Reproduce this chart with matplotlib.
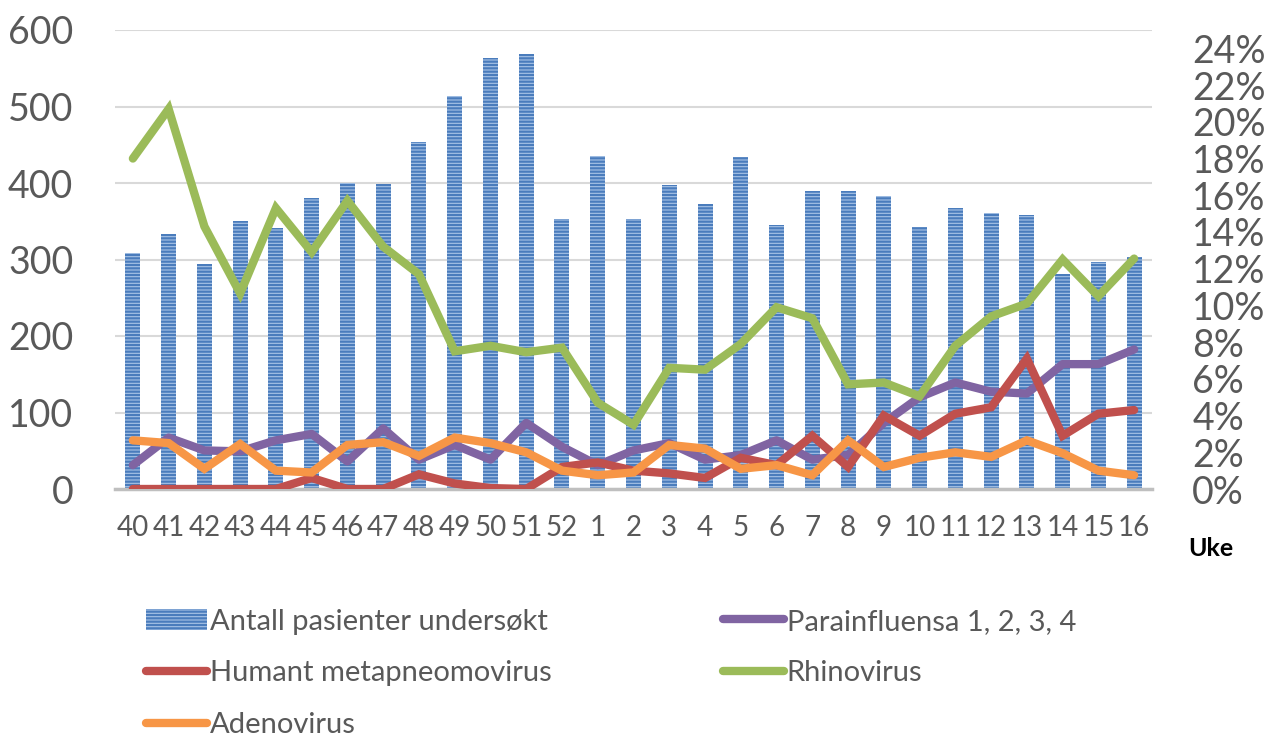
import numpy as np
import matplotlib
matplotlib.use("Agg")
import matplotlib.pyplot as plt
from matplotlib.ticker import FuncFormatter, MultipleLocator
from matplotlib.patches import Patch
from matplotlib.lines import Line2D

# data
uker = ["40", "41", "42", "43", "44", "45", "46", "47", "48", "49", "50", "51", "52",
        "1", "2", "3", "4", "5", "6", "7", "8", "9", "10", "11", "12", "13", "14", "15", "16"]
antall = [308, 333, 294, 350, 341, 380, 400, 399, 453, 514, 563, 569, 353,
          435, 353, 397, 373, 434, 345, 390, 390, 383, 342, 367, 361, 358, 281, 297, 303]
parainfluensa = [1.3, 2.8, 2.1, 2.05, 2.65, 3.0, 1.5, 3.3, 1.6, 2.4, 1.6, 3.6, 2.3,
                 1.3, 2.1, 2.5, 1.6, 1.85, 2.65, 1.6, 1.85, 3.6, 5.0, 5.8, 5.3, 5.2, 6.8, 6.8, 7.6]
metapneumo = [0.0, 0.0, 0.0, 0.0, 0.0, 0.6, 0.0, 0.0, 0.8, 0.3, 0.05, 0.0, 1.2,
              1.45, 1.0, 0.85, 0.6, 1.7, 1.3, 2.9, 1.2, 4.0, 2.9, 4.1, 4.45, 7.1, 2.9, 4.1, 4.3]
rhinovirus = [18.0, 20.7, 14.3, 10.65, 15.3, 12.9, 15.7, 13.2, 11.7, 7.5, 7.8, 7.45, 7.7,
              4.7, 3.5, 6.6, 6.5, 7.9, 9.9, 9.3, 5.7, 5.8, 5.05, 7.8, 9.4, 10.1, 12.5, 10.5, 12.55]
adenovirus = [2.65, 2.5, 1.1, 2.45, 1.0, 0.9, 2.4, 2.55, 1.8, 2.8, 2.5, 2.0, 1.0,
              0.75, 0.9, 2.4, 2.2, 1.1, 1.3, 0.75, 2.65, 1.2, 1.7, 2.0, 1.75, 2.65, 1.95, 1.0, 0.75]

plt.rcParams['font.family'] = ['Lato', 'DejaVu Sans']
plt.rcParams['hatch.color'] = '#4a7cbc'
plt.rcParams['hatch.linewidth'] = 1.6
grey = '#595959'

fig = plt.figure(figsize=(12.66, 7.37), dpi=100)
ax = fig.add_axes([115/1266, 1-489/737, (1152-115)/1266, (489-30)/737])
ax2 = ax.twinx()

x = np.arange(len(uker))
bars = ax.bar(x, antall, width=0.42, color='#a8c3e6', edgecolor='#4a7cbc',
              linewidth=0, hatch='-----', zorder=2)
ax.set_xlim(-0.5, len(uker)-0.5)
ax.set_ylim(0, 600)
ax.yaxis.set_major_locator(MultipleLocator(100))
ax.grid(axis='y', color='#d9d9d9', linewidth=1.5, zorder=0)
ax.set_axisbelow(True)
for s in ['left', 'right', 'top']:
    ax.spines[s].set_visible(False)
    ax2.spines[s].set_visible(False)
ax.spines['bottom'].set_color('#bfbfbf')
ax.spines['bottom'].set_linewidth(2.5)
ax2.spines['bottom'].set_visible(False)
ax.set_xticks(x)
ax.set_xticklabels(uker)
ax.tick_params(axis='x', length=0, pad=19, labelsize=20, labelcolor=grey)
ax.tick_params(axis='y', length=0, pad=30, labelsize=27, labelcolor=grey)

lw = 6
ax2.plot(x, parainfluensa, color='#8064a2', lw=lw, solid_joinstyle='round', solid_capstyle='round')
ax2.plot(x, metapneumo, color='#c0504d', lw=lw, solid_joinstyle='miter', solid_capstyle='round')
ax2.plot(x, rhinovirus, color='#9bbb59', lw=lw, solid_joinstyle='miter', solid_capstyle='round')
ax2.plot(x, adenovirus, color='#f79646', lw=lw, solid_joinstyle='miter', solid_capstyle='round')
ax2.set_ylim(0, 25)
ax2.set_yticks(np.arange(0, 25, 2))
ax2.yaxis.set_major_formatter(FuncFormatter(lambda v, p: f"{v:.0f}%"))
ax2.tick_params(axis='y', length=0, pad=29, labelsize=27, labelcolor=grey)

fig.text(1188/1266, 1-548/737, "Uke", fontsize=18, fontweight='bold', color='black',
         ha='left', va='center')

h_bar = Patch(facecolor='#a8c3e6', edgecolor='#4a7cbc', linewidth=0, hatch='-----')
h_para = Line2D([], [], color='#8064a2', lw=6, solid_capstyle='round')
h_meta = Line2D([], [], color='#c0504d', lw=6, solid_capstyle='round')
h_rhino = Line2D([], [], color='#9bbb59', lw=6, solid_capstyle='round')
h_adeno = Line2D([], [], color='#f79646', lw=6, solid_capstyle='round')

leg_kw = dict(frameon=False, fontsize=21, labelcolor=grey, handlelength=2.1,
              handletextpad=0.1, labelspacing=0.88, borderpad=0, loc='upper left')
leg1 = fig.legend([h_bar, h_meta, h_adeno],
                  ["Antall pasienter undersøkt", "Humant metapneomovirus", "Adenovirus"],
                  bbox_to_anchor=(131/1266, 1-594/737), **leg_kw)
leg2 = fig.legend([h_para, h_rhino], ["Parainfluensa 1, 2, 3, 4", "Rhinovirus"],
                  bbox_to_anchor=(708/1266, 1-594/737), **leg_kw)

fig.savefig("out.png", dpi=100)
plt.close()
